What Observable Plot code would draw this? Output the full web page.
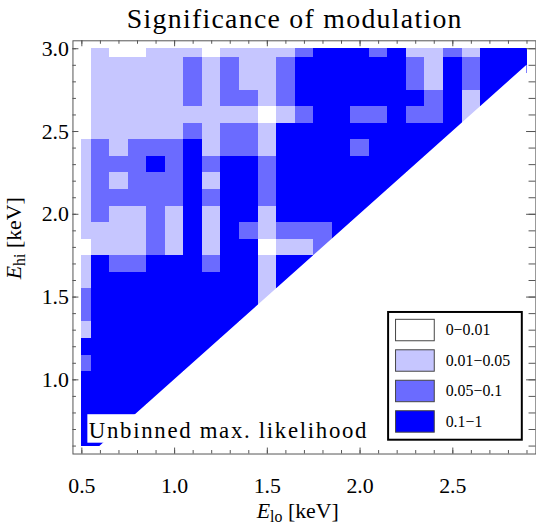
<!DOCTYPE html>
<html><head><meta charset="utf-8">
<script src="https://cdn.jsdelivr.net/npm/d3@7"></script>
<script src="https://cdn.jsdelivr.net/npm/@observablehq/plot@0.6"></script>
<style>
html,body{margin:0;padding:0;background:#fff;overflow:hidden;width:536px;height:525px}
#wrap{position:relative;width:536px;height:525px;overflow:hidden}
svg{display:block}
</style></head><body><div id="wrap"></div>
<script>
// Lower band edge E_lo (columns) and upper edge E_hi (rows, top to bottom), keV
const eLo = [0.5,0.6,0.7,0.8,0.9,1.0,1.1,1.2,1.3,1.4,1.5,1.6,1.7,1.8,1.9,2.0,2.1,2.2,2.3,2.4,2.5,2.6,2.7,2.8,2.9];
const eHi = [3.0,2.9,2.8,2.7,2.6,2.5,2.4,2.3,2.2,2.1,2.0,1.9,1.8,1.7,1.6,1.5,1.4,1.3,1.2,1.1,1.0,0.9,0.8,0.7,0.6];
// significance class per cell (index into classLabels), one string per E_hi row, one digit per E_lo column
const classRows = [
  "0100111011112333231121333",
  "0111112121123333332132333",
  "011111212112333333213233",
  "01111121221233333332313",
  "0111111111012332232231",
  "011111212213333333333",
  "12122231221333323333",
  "1222323233233333333",
  "121222313323333333",
  "12222232332333333",
  "1211213133133333",
  "111121313212223",
  "01112131330112",
  "1322333233133",
  "133333333313",
  "23333333331",
  "2333333333",
  "133333333",
  "33333333",
  "2333333",
  "333333",
  "33333",
  "3333",
  "333",
  "33"
];
const classLabels = ["0\u22120.01","0.01\u22120.05","0.05\u22120.1","0.1\u22121"];
const classColors = ["#ffffff","#c6c6ff","#6b6bff","#0000ff"];
const xTicks = [0.5,1.0,1.5,2.0,2.5];
const yTicks = [1.0,1.5,2.0,2.5,3.0];
const titleText = "Significance of modulation";
const noteText = "Unbinned max. likelihood";

const SERIF = "'Liberation Serif','Times New Roman',serif";
const step = +(eLo[1]-eLo[0]).toFixed(3), h = step/2;
const loMin = eLo[0], loMax = eLo[eLo.length-1];
const hiMin = eHi[eHi.length-1], hiMax = eHi[0];

const cells = classRows.flatMap((row, m) => [...row].map((c, k) => ({lo: eLo[k], hi: eHi[m], cls: classLabels[+c]})));

const W = 540, H = 525, mL = 73, mR = 0.6, mT = 40.6, mB = 68.1;
const FH = H - mT - mB, FW = W - mL - mR;
const TC = "#555";
const minorLen = 3.5, majorLen = 6;

const plot = Plot.plot({
  width: W, height: H,
  marginLeft: mL, marginRight: mR, marginTop: mT, marginBottom: mB,
  style: {fontFamily: SERIF, fontSize: "22px", color: "#000", background: "white", overflow: "visible"},
  x: {domain: [0.452, 2.948]},
  y: {domain: [0.552, 3.048]},
  color: {domain: classLabels, range: classColors},
  marks: [
    Plot.rect(cells, {
      x1: d => Math.max(d.lo - h, loMin), x2: d => Math.min(d.lo + h, loMax),
      y1: d => Math.max(d.hi - h, hiMin), y2: d => Math.min(d.hi + h, hiMax),
      fill: "cls", shapeRendering: "crispEdges"
    }),
    Plot.areaY([loMin, loMax], {x: d => d, y1: hiMin - h, y2: d => d, fill: "white"}),
    Plot.frame({stroke: TC, strokeWidth: 1}),
    Plot.tickX(eLo, {x: d => d, insetTop: FH - minorLen, stroke: TC}),
    Plot.tickX(eLo, {x: d => d, insetBottom: FH - minorLen, stroke: TC}),
    Plot.tickX(xTicks, {x: d => d, insetTop: FH - majorLen, stroke: TC}),
    Plot.tickX(xTicks, {x: d => d, insetBottom: FH - majorLen, stroke: TC}),
    Plot.tickY(eHi, {y: d => d, insetRight: FW - minorLen, stroke: TC}),
    Plot.tickY(eHi, {y: d => d, insetLeft: FW - minorLen - 3.4, stroke: TC}),
    Plot.tickY(yTicks, {y: d => d, insetRight: FW - majorLen, stroke: TC}),
    Plot.tickY(yTicks, {y: d => d, insetLeft: FW - majorLen - 3.4, stroke: TC}),
    Plot.axisX({ticks: xTicks, tickSize: 0, tickPadding: 24, tickFormat: d3.format(".1f"), fontSize: 22, label: null, fill: "#000"}),
    Plot.axisY({ticks: yTicks, tickSize: 0, tickPadding: 4, tickFormat: d3.format(".1f"), fontSize: 22, label: null, fill: "#000"})
  ]
});
document.getElementById("wrap").appendChild(plot);

const svg = d3.select(plot);
svg.append("text").attr("x", 297).attr("y", 28).attr("text-anchor", "middle")
  .attr("font-size", 28).attr("letter-spacing", "1.3px").attr("fill", "#000").text(titleText);
const xl = svg.append("text").attr("x", 300).attr("y", 522).attr("text-anchor", "middle").attr("font-size", 22).attr("fill", "#000");
xl.append("tspan").attr("font-style", "italic").text("E");
xl.append("tspan").attr("font-size", 16).attr("dy", 4).text("lo");
xl.append("tspan").attr("dy", -4).text(" [keV]");
const yl = svg.append("text").attr("transform", "translate(21,240) rotate(-90)").attr("text-anchor", "middle").attr("font-size", 22).attr("fill", "#000");
yl.append("tspan").attr("font-style", "italic").text("E");
yl.append("tspan").attr("font-size", 16).attr("dy", 4).text("hi");
yl.append("tspan").attr("dy", -4).text(" [keV]");
svg.append("rect").attr("x", 88).attr("y", 417.3).attr("width", 290).attr("height", 28.7).attr("fill", "white");
svg.append("text").attr("x", 89.5).attr("y", 441).attr("text-anchor", "start").attr("font-size", 23)
  .attr("letter-spacing", "1.7px").attr("fill", "#000").text(noteText);
const lg = svg.append("g");
lg.append("rect").attr("x", 391).attr("y", 314.3).attr("width", 134.7).attr("height", 128.7)
  .attr("fill", "white").attr("stroke", "black").attr("stroke-width", 2);
classLabels.forEach((lab, i) => {
  const cy = 332.5 + i * 30.7;
  lg.append("rect").attr("x", 398.5).attr("y", cy - 10.8).attr("width", 39).attr("height", 21.6)
    .attr("fill", classColors[i]).attr("stroke", "#444").attr("stroke-width", 1);
  lg.append("text").attr("x", 449).attr("y", cy + 5.5).attr("text-anchor", "start").attr("font-size", 16).attr("fill", "#000").text(lab);
});
</script>
</body></html>
